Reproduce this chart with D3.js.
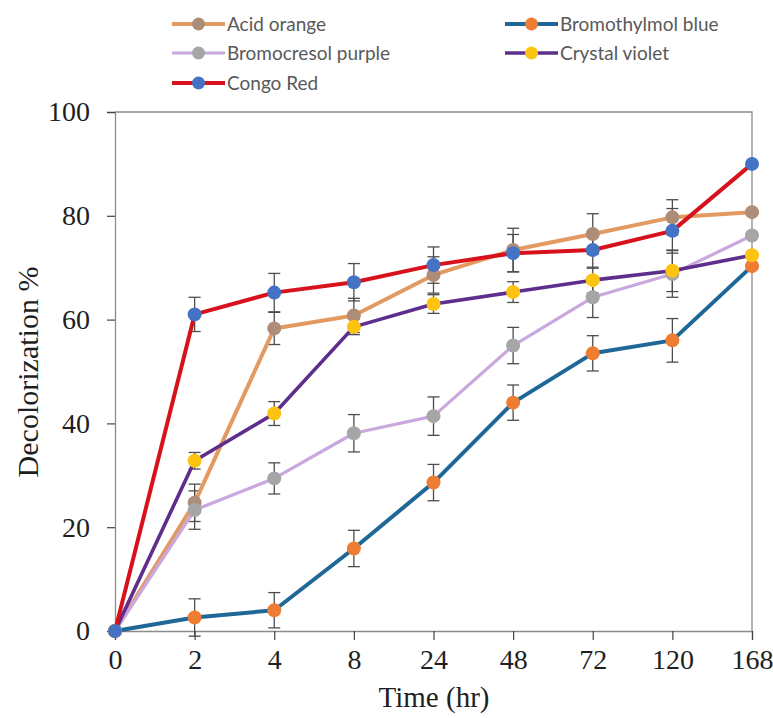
<!DOCTYPE html>
<html>
<head>
<meta charset="utf-8">
<script src="https://cdn.jsdelivr.net/npm/d3@7"></script>
<style>
  body { margin: 0; background: #fff; }
  svg { display: block; }
</style>
</head>
<body>
<svg id="chart" width="773" height="718"></svg>
<script>
const svg = d3.select("#chart");

const hours = ["0", "2", "4", "8", "24", "48", "72", "120", "168"];
const yTicks = [0, 20, 40, 60, 80, 100];

const seriesNames = ["Acid orange", "Bromothylmol blue", "Bromocresol purple", "Crystal violet", "Congo Red"];

const acidOrange = [0, 24.7, 58.3, 60.8, 68.6, 73.4, 76.5, 79.7, 80.7];
const bromothymolBlue = [0, 2.6, 4.0, 15.9, 28.6, 44.0, 53.5, 56.0, 70.3];
const bromocresolPurple = [0, 23.3, 29.4, 38.1, 41.4, 55.0, 64.3, 68.8, 76.2];
const crystalViolet = [0, 32.8, 41.9, 58.6, 63.0, 65.3, 67.6, 69.4, 72.4];
const congoRed = [0, 61.0, 65.2, 67.2, 70.5, 72.8, 73.4, 77.1, 90.0];

const acidOrangeErr = [0, 3.6, 3.1, 3.3, 3.5, 4.2, 3.9, 3.4, 0];
const bromothymolBlueErr = [0, 3.6, 3.4, 3.5, 3.5, 3.4, 3.4, 4.2, 0];
const bromocresolPurpleErr = [0, 3.7, 3.0, 3.6, 3.7, 3.5, 3.9, 4.5, 0];
const crystalVioletErr = [0, 1.6, 2.3, 1.5, 1.8, 2.0, 2.5, 4.0, 0];
const congoRedErr = [0, 3.3, 3.7, 3.6, 3.5, 3.6, 3.5, 4.3, 0];

const lineColors = ["#E39A62", "#1E6796", "#C8A8DE", "#5E2E8C", "#D8121C"];
const markerColors = ["#AE8D78", "#EE7D33", "#A6A6A6", "#FDC311", "#4472C4"];
const lineWidths = [4, 4, 3.2, 3.6, 4];

const series = seriesNames.map((name, i) => ({
  name,
  values: [acidOrange, bromothymolBlue, bromocresolPurple, crystalViolet, congoRed][i],
  errs: [acidOrangeErr, bromothymolBlueErr, bromocresolPurpleErr, crystalVioletErr, congoRedErr][i],
  line: lineColors[i],
  marker: markerColors[i],
  width: lineWidths[i]
}));

const x = d3.scalePoint().domain(hours).range([115, 752]);
const y = d3.scaleLinear().domain([0, 100]).range([631, 112]);

const serif = "'Liberation Serif', 'Times New Roman', serif";

// frame (top and right)
svg.append("path")
  .attr("d", `M115,112H752V631`)
  .attr("fill", "none")
  .attr("stroke", "#8c8c8c")
  .attr("stroke-width", 1.3);

// x axis
const xAxis = svg.append("g")
  .attr("transform", "translate(0,631)")
  .call(d3.axisBottom(x).tickSize(9).tickPadding(9));
xAxis.select(".domain").attr("stroke", "#8c8c8c").attr("stroke-width", 1.3);
xAxis.selectAll(".tick line").attr("stroke", "#444").attr("stroke-width", 1.2);
xAxis.selectAll("text").attr("font-family", serif).attr("font-size", 28).attr("fill", "#1f1f1f");

// y axis
const yAxis = svg.append("g")
  .attr("transform", "translate(115,0)")
  .call(d3.axisLeft(y).tickValues(yTicks).tickSize(8).tickPadding(17));
yAxis.select(".domain").attr("stroke", "#8c8c8c").attr("stroke-width", 1.3);
yAxis.selectAll(".tick line").attr("stroke", "#444").attr("stroke-width", 1.2);
yAxis.selectAll("text").attr("font-family", serif).attr("font-size", 28).attr("fill", "#1f1f1f");

// axis titles
svg.append("text")
  .attr("x", 434).attr("y", 707)
  .attr("text-anchor", "middle")
  .attr("font-family", serif).attr("font-size", 29).attr("fill", "#1f1f1f")
  .text("Time (hr)");

svg.append("text")
  .attr("transform", "translate(38,372) rotate(-90)")
  .attr("text-anchor", "middle")
  .attr("font-family", serif).attr("font-size", 30).attr("fill", "#1f1f1f")
  .text("Decolorization %");

// error bars
series.forEach(s => {
  const g = svg.append("g").attr("stroke", "#4d4d4d").attr("stroke-width", 1.3);
  s.values.forEach((v, i) => {
    const e = s.errs[i];
    if (!e) return;
    const cx = x(hours[i]);
    g.append("line").attr("x1", cx).attr("x2", cx).attr("y1", y(v - e)).attr("y2", y(v + e));
    g.append("line").attr("x1", cx - 6).attr("x2", cx + 6).attr("y1", y(v - e)).attr("y2", y(v - e));
    g.append("line").attr("x1", cx - 6).attr("x2", cx + 6).attr("y1", y(v + e)).attr("y2", y(v + e));
  });
});

// lines and markers
const lineGen = d3.line().x((d, i) => x(hours[i])).y(d => y(d));
series.forEach(s => {
  svg.append("path")
    .datum(s.values)
    .attr("fill", "none")
    .attr("stroke", s.line)
    .attr("stroke-width", s.width)
    .attr("stroke-linejoin", "round")
    .attr("d", lineGen);
  svg.append("g").selectAll("circle")
    .data(s.values)
    .join("circle")
    .attr("cx", (d, i) => x(hours[i]))
    .attr("cy", d => y(d))
    .attr("r", 7)
    .attr("fill", s.marker);
});

// legend
const legendPos = [[172, 24], [505, 24], [172, 53], [505, 53], [172, 83]];
const legendFont = "Lato, 'Open Sans', sans-serif";
series.forEach((s, i) => {
  const [lx, ly] = legendPos[i];
  const g = svg.append("g").attr("transform", `translate(${lx},${ly})`);
  g.append("line").attr("x1", 0).attr("x2", 53).attr("y1", 0).attr("y2", 0)
    .attr("stroke", s.line).attr("stroke-width", s.width);
  g.append("circle").attr("cx", 26.5).attr("cy", 0).attr("r", 6.5).attr("fill", s.marker);
  g.append("text").attr("x", 55).attr("y", 0).attr("dy", "0.35em")
    .attr("font-family", legendFont).attr("font-size", 19).attr("fill", "#595959")
    .text(s.name);
});
</script>
</body>
</html>
